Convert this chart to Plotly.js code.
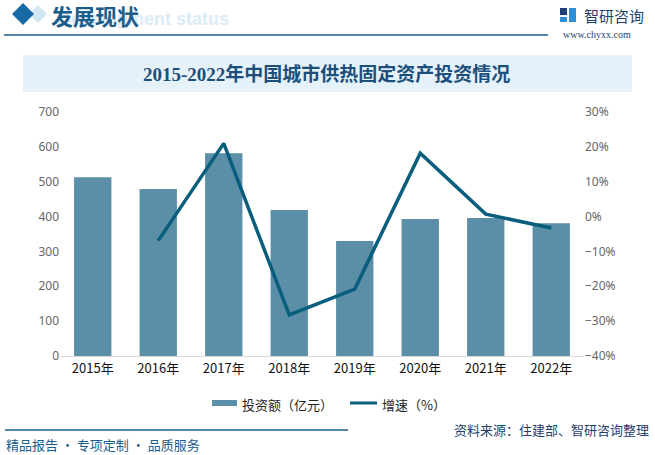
<!DOCTYPE html>
<html>
<head>
<meta charset="utf-8">
<script src="https://cdn.plot.ly/plotly-3.0.1.min.js"></script>
<style>
  html, body { margin: 0; padding: 0; background: #fff; }
  #chart { width: 655px; height: 455px; }
</style>
</head>
<body>
<div id="chart"></div>
<script>
// data
var years = ['2015年', '2016年', '2017年', '2018年', '2019年', '2020年', '2021年', '2022年'];
var invest = [513, 479, 582, 419, 330, 393, 396, 381];          // 亿元
var growthYears = ['2016年', '2017年', '2018年', '2019年', '2020年', '2021年', '2022年'];
var growth = [-6.9, 21.0, -28.2, -20.8, 18.2, 0.7, -3.3];       // %

// plot area in pixels
var L = 60, R = 71, T = 112, B = 99, W = 655, H = 455;
var pw = W - L - R, ph = H - T - B;
// pixel -> paper helpers for the decorations
function px(x) { return (x - L) / pw; }
function py(y) { return (H - B - y) / ph; }

var darkBlue = '#1b5e8c';
var barColor = '#5b8fa7';
var lineColor = '#0a5e7d';
var cjk = '"Noto Sans CJK SC", "Noto Sans", sans-serif';

var trace1 = {
  type: 'bar',
  x: years,
  y: invest,
  name: '投资额（亿元）',
  marker: { color: barColor },
  width: 0.57,
  hoverinfo: 'skip'
};
var trace2 = {
  type: 'scatter',
  mode: 'lines',
  x: growthYears,
  y: growth,
  yaxis: 'y2',
  name: '增速（%）',
  line: { color: lineColor, width: 3.5 },
  hoverinfo: 'skip'
};

function diamond(cx, cy, r) {
  var p = 'M' + px(cx - r) + ',' + py(cy) + ' L' + px(cx) + ',' + py(cy - r) +
          ' L' + px(cx + r) + ',' + py(cy) + ' L' + px(cx) + ',' + py(cy + r) + ' Z';
  return p;
}

var shapes = [
  // header diamonds
  { type: 'path', xref: 'paper', yref: 'paper', path: diamond(38, 14, 9), fillcolor: '#d3e6f3', line: { width: 0 }, layer: 'below' },
  { type: 'path', xref: 'paper', yref: 'paper', path: diamond(23, 14, 11), fillcolor: '#176aa6', line: { width: 0 }, layer: 'below' },
  // header rule
  { type: 'line', xref: 'paper', yref: 'paper', x0: px(4), x1: px(548), y0: py(35), y1: py(35), line: { color: darkBlue, width: 1.5 } },
  // title box
  { type: 'rect', xref: 'paper', yref: 'paper', x0: px(23), x1: px(632), y0: py(55), y1: py(92), fillcolor: '#e6f2fa', line: { width: 0 }, layer: 'below' },
  // legend swatches
  { type: 'rect', xref: 'paper', yref: 'paper', x0: px(212), x1: px(237), y0: py(400), y1: py(406), fillcolor: barColor, line: { width: 0 } },
  { type: 'line', xref: 'paper', yref: 'paper', x0: px(350), x1: px(377), y0: py(403), y1: py(403), line: { color: lineColor, width: 3 } },
  // footer rule
  { type: 'line', xref: 'paper', yref: 'paper', x0: px(5), x1: px(348), y0: py(430), y1: py(430), line: { color: darkBlue, width: 1.5 } },
  // logo blocks
  { type: 'rect', xref: 'paper', yref: 'paper', x0: px(560), x1: px(567), y0: py(8), y1: py(15), fillcolor: '#1f3f7a', line: { width: 0 } },
  { type: 'rect', xref: 'paper', yref: 'paper', x0: px(569), x1: px(576), y0: py(8), y1: py(22), fillcolor: '#2f8fd6', line: { width: 0 } },
  { type: 'rect', xref: 'paper', yref: 'paper', x0: px(560), x1: px(567), y0: py(17), y1: py(22), fillcolor: '#2f8fd6', line: { width: 0 } }
];

function ann(text, x, y, size, color, xanchor, extra) {
  var a = {
    text: text, xref: 'paper', yref: 'paper', x: px(x), y: py(y),
    xanchor: xanchor || 'left', yanchor: 'middle', showarrow: false,
    font: { family: cjk, size: size, color: color }
  };
  for (var k in extra) a[k] = extra[k];
  return a;
}

var annotations = [
  ann('<b>Development status</b>', 56, 19, 18, '#dbeaf5', 'left', { font: { family: 'Liberation Sans, Arial', size: 18, color: '#dcebf6' } }),
  ann('<b>发展现状</b>', 49, 15, 22, darkBlue),
  ann('智研咨询', 582, 15, 15, '#1f3f6e'),
  ann('www.chyxx.com', 597, 34, 10, '#1f3f6e', 'center', { font: { family: 'Liberation Serif, serif', size: 10, color: '#1f3f6e' } }),
  ann('<b>2015-2022年中国城市供热固定资产投资情况</b>', 326, 74, 19, '#1c4f7a', 'center',
      { font: { family: '"Liberation Serif", "Noto Sans CJK SC", serif', size: 19, color: '#1c4f7a' } }),
  ann('投资额（亿元）', 240, 404, 13, '#222'),
  ann('增速（%）', 380, 404, 13, '#222'),
  ann('资料来源：住建部、智研咨询整理', 651, 429, 13, '#1f3f6e', 'right'),
  ann('精品报告 · 专项定制 · 品质服务', 4, 444, 13, darkBlue)
];

var layout = {
  width: W,
  height: H,
  margin: { l: L, r: R, t: T, b: B },
  paper_bgcolor: 'rgba(0,0,0,0)',
  plot_bgcolor: 'rgba(0,0,0,0)',
  showlegend: false,
  bargap: 0.43,
  xaxis: {
    type: 'category',
    showgrid: false,
    showline: true,
    linecolor: '#d9d9d9',
    linewidth: 1,
    ticks: '',
    tickfont: { family: cjk, size: 13, color: '#111' }
  },
  yaxis: {
    range: [0, 700],
    dtick: 100,
    showgrid: false,
    zeroline: false,
    ticks: '',
    tickfont: { family: '"Noto Sans", sans-serif', size: 12, color: '#666' }
  },
  yaxis2: {
    overlaying: 'y',
    side: 'right',
    range: [-40, 30],
    dtick: 10,
    ticksuffix: '%',
    showgrid: false,
    zeroline: false,
    ticks: '',
    tickfont: { family: '"Noto Sans", sans-serif', size: 12, color: '#666' }
  },
  shapes: shapes,
  annotations: annotations
};

Plotly.newPlot('chart', [trace1, trace2], layout, { displayModeBar: false, staticPlot: true });
</script>
</body>
</html>
